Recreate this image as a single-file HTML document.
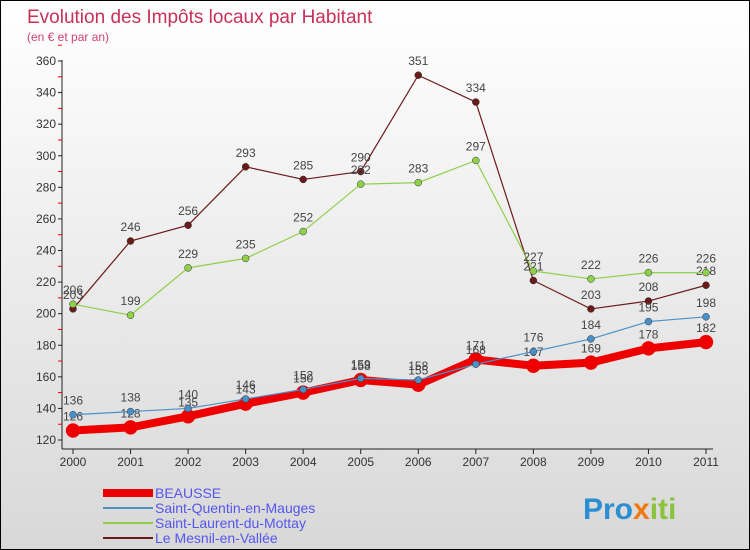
<!DOCTYPE html>
<html><head><meta charset="utf-8"><style>
body{margin:0;}
#c{width:748px;height:548px;border:1px solid #000;position:relative;background:linear-gradient(#fff,#d8d8d8);font-family:"Liberation Sans",sans-serif;overflow:hidden}
</style></head><body>
<div id="c">
<svg id="s" width="748" height="548">
<text x="26" y="22" font-size="19" fill="#c8305a">Evolution des Impôts locaux par Habitant</text>
<text x="26" y="40" font-size="12" fill="#d04070">(en € et par an)</text>
<g id="axes"></g><g id="series"></g><g id="legend"></g>
<text x="582" y="518" font-size="30" font-weight="bold" fill="#2a8fd0">Pro<tspan fill="#f07a10">x</tspan><tspan fill="#8ac43c">iti</tspan></text>
</svg></div>
<script>
const years=["2000","2001","2002","2003","2004","2005","2006","2007","2008","2009","2010","2011"];
const yTicks=[120,140,160,180,200,220,240,260,280,300,320,340,360];
const beausse=[126,128,135,143,150,158,155,171,167,169,178,182];
const stQuentin=[136,138,140,146,152,159,158,168,176,184,195,198];
const stLaurent=[206,199,229,235,252,282,283,297,227,222,226,226];
const mesnil=[203,246,256,293,285,290,351,334,221,203,208,218];
const seriesNames=["BEAUSSE","Saint-Quentin-en-Mauges","Saint-Laurent-du-Mottay","Le Mesnil-en-Vallée"];
const NS="http://www.w3.org/2000/svg";
const X=i=>72+i*(705-72)/(years.length-1);
const Y=v=>439-(v-120)*(379/240);
function mk(t,a,p){const e=document.createElementNS(NS,t);for(const k in a)e.setAttribute(k,a[k]);p.appendChild(e);return e;}
const ax=document.getElementById('axes');
let l=mk('line',{x1:61,y1:59,x2:61,y2:448,stroke:'#222'},ax);

l=mk('line',{x1:61,y1:448,x2:712,y2:448,stroke:'#222'},ax);

yTicks.forEach(v=>{mk('line',{x1:57,x2:61,y1:Y(v),y2:Y(v),stroke:'#222'},ax);
 mk('line',{x1:57,x2:61,y1:Y(v+10),y2:Y(v+10),stroke:'#e00'},ax);
 const t=mk('text',{x:55,y:Y(v)+4,'text-anchor':'end','font-size':12,fill:'#333'},ax);t.textContent=v;
 });
years.forEach((y,i)=>{mk('line',{x1:X(i),x2:X(i),y1:448,y2:453,stroke:'#222'},ax);
 const t=mk('text',{x:X(i),y:465,'text-anchor':'middle','font-size':12,fill:'#333'},ax);t.textContent=y;
 });
const sg=document.getElementById('series');
function draw(data,color,w,r,name){
 const g=mk('g',{},sg);
 mk('polyline',{points:data.map((v,i)=>X(i)+','+Y(v)).join(' '),fill:'none',stroke:color,'stroke-width':w},g);
 data.forEach((v,i)=>{const c=mk('circle',{cx:X(i),cy:Y(v),r:r,fill:color,stroke:w>3?color:'#333','stroke-width':0.5},g);
  
  const t=mk('text',{x:X(i),y:Y(v)-10,'text-anchor':'middle','font-size':12,fill:'#444'},g);t.textContent=v;});
}
draw(mesnil,'#6b1a1a',1.2,3.5,'mesnil-series');
draw(stLaurent,'#8fd04a',1.2,3.5,'st-laurent-series');
draw(beausse,'#ee0000',8,7,'beausse-series');
draw(stQuentin,'#4a90c8',1.2,3.5,'st-quentin-series');
const lg=document.getElementById('legend');
const lc=['#ee0000','#4a90c8','#8fd04a','#6b1a1a'],lw=[8,2,2,2];
seriesNames.forEach((n,i)=>{const y=492+i*15;
 const g=mk('g',{},lg);
 mk('line',{x1:102,x2:152,y1:y,y2:y,stroke:lc[i],'stroke-width':lw[i]},g);
 const t=mk('text',{x:154,y:y+5,'font-size':14,fill:'#5555ee'},g);t.textContent=n;});
</script></body></html>
